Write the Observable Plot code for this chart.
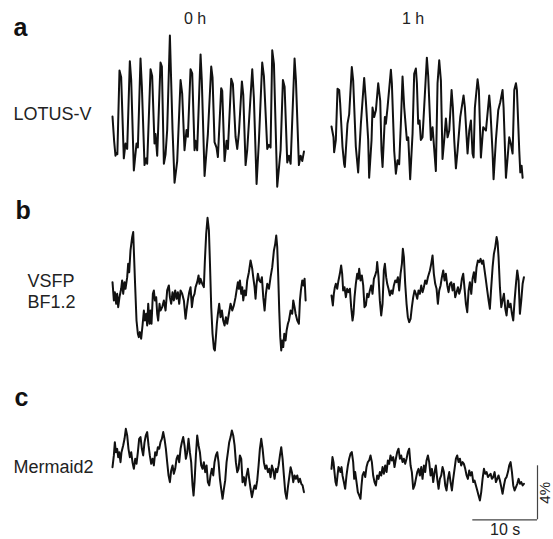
<!DOCTYPE html>
<html>
<head>
<meta charset="utf-8">
<script src="https://cdn.jsdelivr.net/npm/d3@7"></script>
<script src="https://cdn.jsdelivr.net/npm/@observablehq/plot@0.6"></script>
<style>
  html, body { margin: 0; padding: 0; background: #fff; }
  #chart svg { display: block; }
</style>
</head>
<body>
<div id="chart"></div>
<script>
// ---------------- data: [time (s), ΔF/F (%)] ----------------
const lotus0h = [[0,-0.2],[0.25,-2.0],[0.46,-3.1],[0.6,-2.9],[0.75,-3.0],[1.08,3.2],[1.34,2.7],[1.75,-3.3],[2.01,-2.2],[2.27,-2.6],[2.68,3.9],[2.89,2.5],[3.30,-4.2],[3.71,-2.2],[3.92,-2.5],[4.33,4.1],[4.54,2.0],[4.95,-3.8],[5.21,-3.3],[5.36,-3.7],[5.88,3.3],[6.13,2.8],[6.49,-2.2],[6.65,-1.5],[6.91,-3.1],[7.42,3.8],[7.63,3.5],[7.94,-3.7],[8.20,-3.0],[8.45,-1.2],[8.87,5.8],[9.28,-1.2],[9.59,-5.1],[10.0,-3.5],[10.52,2.5],[10.77,1.5],[11.13,-2.7],[11.44,-1.2],[11.65,-1.7],[12.06,3.3],[12.32,3.0],[12.68,-2.7],[12.84,-2.0],[13.09,-2.7],[13.61,4.4],[13.8,2.5],[14.23,-4.6],[14.74,-1.5],[15.26,3.5],[15.46,2.7],[15.77,-2.1],[16.08,-2.5],[16.29,-3.2],[16.80,1.9],[16.96,1.7],[17.32,-3.5],[17.63,-2.0],[17.84,-2.6],[18.35,2.6],[18.61,2.2],[19.02,-1.7],[19.28,-2.6],[19.54,-1.4],[20.0,2.4],[20.21,1.4],[20.57,-3.8],[20.82,-2.7],[21.6,3.3],[21.85,1.2],[22.27,-5.2],[22.63,-2.0],[23.14,3.8],[23.40,2.8],[23.92,-2.6],[24.18,-2.3],[24.43,-2.5],[24.69,4.7],[24.95,3.7],[25.46,-5.4],[25.98,-2.7],[26.34,2.5],[26.6,2.0],[27.01,-3.6],[27.27,-3.1],[27.53,-3.7],[28.14,4.1],[28.35,2.5],[28.81,-3.8],[29.07,-3.1],[29.33,-3.5],[29.59,-2.8]];

const lotus1h = [[0,-0.2],[0.31,-1.0],[0.41,-2.1],[0.67,-1.2],[0.93,2.6],[1.19,2.5],[1.34,1.5],[1.70,-1.7],[1.96,-3.0],[2.06,-3.2],[2.47,0],[2.73,0.7],[3.14,4.2],[3.35,3.2],[3.76,-1.7],[4.12,-3.6],[4.54,0],[5.05,3.4],[5.31,1.7],[5.67,-1.2],[5.82,-4.0],[6.19,-1.2],[6.34,1.2],[6.60,0.5],[6.86,1.0],[7.22,3.0],[7.53,1.7],[7.73,-2.0],[7.89,-3.2],[8.25,0.5],[8.40,0],[8.66,1.2],[9.18,4.0],[9.33,3.0],[9.69,-2.0],[9.95,-3.7],[10.21,-2.7],[10.46,-3.0],[10.72,0],[10.98,3.5],[11.24,1.2],[11.65,-1.2],[11.86,-1.0],[12.16,-4.1],[12.53,-0.7],[12.78,3.7],[13.04,4.1],[13.2,3.0],[13.4,0],[13.61,0.25],[13.81,-1.2],[14.07,-1.0],[14.74,4.9],[14.95,3.5],[15.36,-1.2],[15.62,-0.25],[16.13,-3.5],[16.39,3.0],[16.65,4.7],[16.91,3.2],[17.16,-2.6],[17.42,-1.2],[17.68,0.4],[17.94,-1.0],[18.2,-0.5],[18.56,2.5],[18.76,1.2],[18.97,-1.2],[19.23,-3.3],[19.48,-2.0],[19.9,0.5],[20.41,2.1],[20.62,1.2],[21.03,-2.2],[21.29,-0.5],[21.55,0.25],[21.8,-2.2],[21.96,-2.5],[22.16,1.2],[22.58,3.3],[22.78,2.5],[23.09,-2.5],[23.45,-0.25],[23.87,-0.5],[24.38,2.1],[24.54,1.2],[24.9,-2.2],[25.05,-4.1],[25.41,-1.2],[25.77,1.0],[26.08,1.6],[26.44,2.5],[26.6,1.2],[26.96,-4.0],[27.22,-2.5],[27.47,-1.0],[27.73,-1.5],[27.99,-2.2],[28.25,2.5],[28.51,3.0],[28.66,2.5],[29.02,-2.0],[29.18,-3.6],[29.38,-3.1],[29.54,-4.0]];

const vsfp0h = [[0,0.12],[0.21,-1.23],[0.36,-0.62],[0.57,-1.48],[0.72,-0.74],[0.88,-1.73],[1.08,-0.99],[1.34,-0.37],[1.49,0.25],[1.65,-0.74],[1.86,0.12],[2.01,-0.37],[2.27,0.49],[2.42,1.48],[2.58,0.86],[2.78,2.47],[3.04,3.46],[3.20,3.83],[3.30,2.47],[3.51,-0.25],[3.71,-2.72],[3.92,-3.70],[4.07,-3.95],[4.23,-3.58],[4.43,-4.07],[4.64,-3.09],[4.85,-1.98],[5.00,-2.72],[5.21,-2.22],[5.36,-3.09],[5.52,-1.48],[5.72,-2.96],[5.88,-1.98],[6.03,-2.96],[6.24,-0.74],[6.39,-0.49],[6.55,-1.23],[6.75,-0.99],[6.91,-2.22],[7.06,-2.72],[7.27,-1.48],[7.42,-1.98],[7.68,-1.73],[7.94,-1.23],[8.20,-1.98],[8.45,-0.49],[8.71,-0.12],[8.87,-0.99],[9.07,-1.48],[9.28,-0.62],[9.48,-1.23],[9.69,-0.49],[9.90,-1.11],[10.10,-0.62],[10.31,-1.48],[10.52,-0.49],[10.77,-0.74],[11.03,-1.23],[11.29,-2.59],[11.44,-1.98],[11.65,-1.23],[11.86,-0.62],[12.06,-0.25],[12.27,-1.73],[12.47,-0.99],[12.68,-0.74],[12.84,-0.25],[13.09,0.12],[13.30,0.62],[13.45,0],[13.61,0.37],[13.87,0],[14.12,-0.25],[14.28,1.73],[14.48,3.70],[14.69,4.89],[14.90,3.95],[15.05,1.73],[15.26,-1.73],[15.46,-3.70],[15.67,-4.81],[15.82,-4.94],[15.98,-3.95],[16.13,-2.96],[16.29,-2.22],[16.49,-1.48],[16.70,-2.47],[16.91,-1.98],[17.11,-2.72],[17.32,-3.09],[17.53,-2.47],[17.73,-2.96],[17.99,-2.22],[18.25,-1.48],[18.51,-1.98],[18.76,-1.6],[19.02,-0.99],[19.18,-0.49],[19.38,0.12],[19.54,-0.37],[19.69,0.25],[19.90,-0.74],[20.05,-0.25],[20.21,-1.23],[20.41,-0.49],[20.62,-0.86],[20.82,0.25],[21.08,0.86],[21.34,1.73],[21.60,1.11],[21.75,0.49],[21.96,-0.25],[22.11,-1.11],[22.27,0],[22.47,0.74],[22.68,0.25],[22.89,0.12],[23.09,0.49],[23.30,-0.99],[23.51,-1.98],[23.71,-0.74],[23.92,0],[24.18,-0.37],[24.43,0.49],[24.69,1.23],[24.95,2.47],[25.15,2.96],[25.31,3.58],[25.46,2.72],[25.62,0.49],[25.77,-1.98],[25.93,-3.95],[26.08,-4.94],[26.24,-4.20],[26.39,-4.69],[26.55,-3.70],[26.75,-4.20],[26.91,-3.46],[27.11,-2.96],[27.27,-2.72],[27.53,-1.98],[27.78,-2.22],[27.94,-1.23],[28.14,-1.73],[28.30,-2.22],[28.56,-2.72],[28.81,-2.96],[28.97,-1.23],[29.12,-0.49],[29.33,0.25],[29.48,-0.12],[29.69,0.37],[29.85,-1.23]];

const vsfp1h = [[0,-0.49],[0.21,-1.23],[0.36,-0.37],[0.52,0.12],[0.67,0.37],[0.88,0],[1.08,0.62],[1.29,1.11],[1.49,1.73],[1.65,1.11],[1.80,-0.12],[2.01,0.12],[2.22,-0.62],[2.42,0],[2.63,-0.25],[2.84,0],[3.04,-1.36],[3.25,-2.35],[3.40,-1.85],[3.56,-0.62],[3.76,0.37],[3.97,1.11],[4.12,0.74],[4.28,1.48],[4.48,0.62],[4.69,0.99],[4.90,0.25],[5.10,-1.36],[5.31,-1.23],[5.52,-0.37],[5.72,-0.62],[5.93,-0.12],[6.13,0.25],[6.34,-0.37],[6.55,0.74],[6.75,0.99],[6.96,1.36],[7.06,1.98],[7.27,0.86],[7.47,-0.86],[7.68,-1.98],[7.89,-1.11],[8.09,1.36],[8.25,1.85],[8.45,0.86],[8.61,0.37],[8.81,0],[9.02,-0.49],[9.23,-0.12],[9.43,-0.37],[9.64,0.25],[9.85,0.62],[10.05,0.49],[10.26,0.86],[10.46,-0.12],[10.67,1.11],[10.88,1.85],[11.03,2.96],[11.19,2.35],[11.39,0.37],[11.60,-1.11],[11.80,-2.10],[12.01,-2.47],[12.22,-2.22],[12.42,-1.36],[12.63,-0.62],[12.84,-0.12],[13.04,-0.37],[13.25,-0.74],[13.45,-0.12],[13.66,-0.37],[13.87,0.25],[14.07,-0.25],[14.28,0.12],[14.48,0.62],[14.69,0.37],[14.90,0.86],[15.21,1.36],[15.41,1.85],[15.62,2.47],[15.82,1.11],[16.03,0.37],[16.24,0],[16.44,-1.11],[16.65,-0.12],[16.86,0.25],[17.06,0.86],[17.27,1.36],[17.47,0.62],[17.68,1.11],[17.89,0.25],[18.09,-0.25],[18.30,0.37],[18.51,0.49],[18.71,-0.12],[18.92,0.37],[19.12,-0.62],[19.33,-0.25],[19.54,0.12],[19.74,-0.37],[19.95,0],[20.15,0.74],[20.36,1.11],[20.57,0],[20.77,-1.11],[20.98,-1.73],[21.19,-0.12],[21.39,0.49],[21.60,-0.37],[21.80,0.74],[22.01,1.23],[22.22,0.49],[22.42,1.60],[22.63,2.10],[22.84,1.98],[23.04,2.22],[23.25,1.85],[23.45,2.10],[23.66,1.36],[23.87,0.62],[24.07,-0.12],[24.28,-0.86],[24.48,-1.48],[24.69,0.12],[24.90,1.60],[25.10,2.59],[25.31,3.09],[25.52,3.83],[25.67,3.46],[25.82,2.35],[26.03,0.12],[26.24,-1.36],[26.44,-0.86],[26.65,-0.37],[26.86,-1.48],[27.06,-1.98],[27.27,-0.86],[27.47,-1.36],[27.68,-1.11],[27.89,-1.85],[28.09,-2.35],[28.30,-0.86],[28.51,0.37],[28.71,1.36],[28.92,0.62],[29.12,-1.85],[29.33,-0.86],[29.54,0.37],[29.74,0.86]];

const mermaid0h = [[0,-0.25],[0.21,0.62],[0.36,1.60],[0.52,0.86],[0.72,1.11],[0.88,0.49],[1.03,0.86],[1.24,0.12],[1.39,0.86],[1.65,1.36],[1.86,1.85],[2.06,2.59],[2.27,2.10],[2.47,1.11],[2.68,0.49],[2.89,0.86],[3.09,0.12],[3.30,-0.37],[3.51,0.37],[3.71,0],[3.92,0.86],[4.12,1.85],[4.33,1.98],[4.54,1.11],[4.74,0.62],[4.95,1.60],[5.15,2.10],[5.36,2.35],[5.57,1.36],[5.77,0.62],[5.98,0],[6.19,0.37],[6.39,-0.12],[6.60,0.86],[6.80,0.62],[7.01,1.23],[7.22,1.11],[7.42,1.60],[7.63,1.85],[7.84,2.35],[8.04,1.85],[8.25,1.11],[8.45,0.12],[8.66,-0.86],[8.87,-1.36],[9.07,-0.49],[9.28,-0.12],[9.48,-0.74],[9.69,-0.37],[9.90,0.37],[10.10,0.62],[10.31,0.12],[10.52,1.11],[10.72,1.60],[10.93,1.98],[11.13,1.36],[11.34,0.37],[11.55,0.86],[11.75,1.85],[11.96,0.86],[12.16,0.12],[12.37,-1.60],[12.53,-2.35],[12.68,-1.36],[12.89,0.62],[13.09,2.10],[13.30,1.36],[13.51,0.86],[13.71,-0.12],[13.92,-0.37],[14.12,0.12],[14.33,-0.62],[14.54,-0.12],[14.74,-1.36],[14.95,-1.60],[15.15,-0.86],[15.36,-0.37],[15.57,-0.86],[15.77,0.12],[15.98,0.62],[16.19,0.86],[16.39,0.12],[16.60,-1.11],[16.80,-1.85],[17.01,-2.59],[17.22,-1.85],[17.42,-1.23],[17.63,0.12],[17.84,0.86],[18.04,1.60],[18.25,1.98],[18.45,2.47],[18.66,2.10],[18.87,1.36],[19.07,0.12],[19.28,-0.62],[19.48,-0.37],[19.69,0.62],[19.90,0.37],[20.10,-1.36],[20.31,-0.99],[20.52,-1.60],[20.72,-0.86],[20.93,-0.37],[21.13,-1.11],[21.34,-1.85],[21.55,-2.47],[21.75,-1.98],[21.96,-1.60],[22.16,-1.85],[22.37,-1.23],[22.58,-0.12],[22.78,1.11],[22.99,1.85],[23.20,1.11],[23.40,0.12],[23.61,-0.37],[23.81,-0.12],[24.02,-0.62],[24.23,-0.37],[24.43,-0.99],[24.64,-0.12],[24.85,-0.49],[25.05,-1.11],[25.26,-0.37],[25.46,-0.62],[25.67,-0.12],[25.88,0.62],[26.08,1.23],[26.29,0.37],[26.49,-0.86],[26.70,-2.10],[26.91,-2.59],[27.11,-1.73],[27.32,-0.99],[27.53,-0.25],[27.73,-0.62],[27.94,-1.36],[28.14,-0.86],[28.35,-1.11],[28.56,-0.86],[28.76,-1.36],[28.97,-1.11],[29.18,-1.48],[29.38,-1.60],[29.59,-2.10]];

const mermaid1h = [[0,0.44],[0.15,1.31],[0.31,0.94],[0.46,0.20],[0.62,-0.54],[0.77,-0.79],[0.93,-0.05],[1.08,0.57],[1.24,0.44],[1.39,0.20],[1.55,0.57],[1.70,-0.05],[1.91,-0.54],[2.11,-1.04],[2.32,-0.05],[2.53,0.69],[2.73,1.19],[2.94,1.56],[3.14,1.68],[3.35,0.94],[3.51,-0.30],[3.66,0.20],[3.87,-0.54],[4.07,-1.28],[4.28,-1.53],[4.48,-1.78],[4.64,-0.79],[4.79,-0.05],[5.00,0.20],[5.21,-0.17],[5.41,0.57],[5.62,0.94],[5.82,1.06],[6.03,1.43],[6.24,0.94],[6.44,-0.05],[6.65,-0.54],[6.86,-0.79],[7.06,-0.05],[7.27,-0.30],[7.47,0.20],[7.68,-0.05],[7.89,0.57],[8.09,0.07],[8.30,0.69],[8.51,0.20],[8.71,1.06],[8.92,0.81],[9.12,1.43],[9.33,1.06],[9.54,1.31],[9.74,0.57],[9.95,1.19],[10.15,1.68],[10.36,1.93],[10.57,1.19],[10.77,1.43],[10.98,0.94],[11.19,1.19],[11.39,0.81],[11.60,1.19],[11.80,1.68],[12.01,1.93],[12.22,0.69],[12.42,0.20],[12.63,-1.04],[12.84,-0.79],[13.04,-0.30],[13.25,0.20],[13.45,0.44],[13.66,-0.05],[13.87,0.57],[14.07,-0.30],[14.28,0.69],[14.48,0.20],[14.69,1.06],[14.90,1.43],[15.10,0.94],[15.31,-0.05],[15.52,0.44],[15.72,-0.54],[15.93,0.20],[16.13,0.69],[16.34,-0.30],[16.55,-1.04],[16.75,-0.30],[16.96,-0.05],[17.16,0.57],[17.37,0.20],[17.58,-0.79],[17.78,-1.16],[17.99,-0.30],[18.20,0.20],[18.40,-0.54],[18.61,-1.16],[18.81,-0.30],[19.02,0.44],[19.23,1.19],[19.43,1.43],[19.64,0.94],[19.85,1.19],[20.05,0.69],[20.26,0.94],[20.46,0.81],[20.67,0.44],[20.88,-0.05],[21.08,-0.30],[21.29,0.32],[21.49,-0.05],[21.70,0.20],[21.91,-0.54],[22.11,-0.42],[22.32,-0.79],[22.53,-1.16],[22.73,-1.53],[22.94,-1.90],[23.14,-1.28],[23.35,-0.30],[23.56,0.44],[23.76,0.07],[23.97,0.20],[24.18,-0.17],[24.38,-0.05],[24.59,0.07],[24.79,-0.30],[25.00,-0.17],[25.21,0.20],[25.41,-0.54],[25.62,-0.30],[25.82,-0.05],[26.03,-0.42],[26.24,-0.91],[26.44,-1.41],[26.65,-0.79],[26.86,-0.30],[27.06,-0.17],[27.27,0.20],[27.47,0.69],[27.68,0.94],[27.89,0.20],[28.09,-0.79],[28.30,-1.16],[28.51,-0.91],[28.71,-0.67],[28.92,-0.30],[29.12,-0.67],[29.33,-0.54],[29.54,-0.79],[29.74,-0.67]];

const panelLetters = ["a", "b", "c"];
const sensorNames = ["LOTUS-V", "VSFP\nBF1.2", "Mermaid2"];
const timepoints = ["0 h", "1 h"];
const scaleBarSeconds = 10;
const scaleBarPercent = 4;

// ---------------- layout (pixels) ----------------
const W = 553, H = 539;
const PX_PER_S = 6.47, PX_PER_PCT = 13.5;
const sx = px => px / PX_PER_S;            // pixel -> seconds
const sy = px => (H - px) / PX_PER_PCT;    // pixel -> percent
const colStart = [112, 331];                // trace start x per column
const rowBase = [[113.3, 123.3], [283.3, 288.3], [463.3, 474.3]];
const letterPos = [[13, 27], [15, 210], [14, 397]];
const namePos = [[13, 113], [27, 290], [13, 466]];
const headerY = 18, headerX = [194.5, 412.5];
const barEnd = [537, 519.3];

const series = [[lotus0h, lotus1h], [vsfp0h, vsfp1h], [mermaid0h, mermaid1h]];
const rows = [];
series.forEach((pair, r) => pair.forEach((trace, c) => {
  trace.forEach(([t, v]) => rows.push({
    id: `${r}-${c}`,
    x: sx(colStart[c]) + t,
    y: sy(rowBase[r][c]) + v
  }));
}));

const letters = panelLetters.map((s, i) => ({s, x: sx(letterPos[i][0]), y: sy(letterPos[i][1])}));
const names = sensorNames.map((s, i) => ({s, x: sx(namePos[i][0]), y: sy(namePos[i][1])}));
const headers = timepoints.map((s, i) => ({s, x: sx(headerX[i]), y: sy(headerY)}));

const xb = sx(barEnd[0]), yb = sy(barEnd[1]);
const font = "'Liberation Sans', Arial, Helvetica, sans-serif";

const chart = Plot.plot({
  width: W,
  height: H,
  margin: 0,
  x: {domain: [0, W / PX_PER_S], axis: null},
  y: {domain: [0, H / PX_PER_PCT], axis: null},
  style: {fontFamily: font, background: "#fff"},
  marks: [
    Plot.line(rows, {x: "x", y: "y", z: "id", stroke: "#111", strokeWidth: 2, strokeLinejoin: "round"}),
    Plot.ruleY([yb], {x1: xb - scaleBarSeconds, x2: xb, stroke: "#444", strokeWidth: 1.2}),
    Plot.ruleX([xb], {y1: yb, y2: yb + scaleBarPercent, stroke: "#444", strokeWidth: 1.2}),
    Plot.text(letters, {x: "x", y: "y", text: "s", textAnchor: "start", fontSize: 25, fontWeight: "bold", fill: "#111"}),
    Plot.text(names, {x: "x", y: "y", text: "s", textAnchor: "start", fontSize: 18, lineHeight: 1.2, fill: "#222"}),
    Plot.text(headers, {x: "x", y: "y", text: "s", textAnchor: "middle", fontSize: 16, fill: "#222"}),
    Plot.text([`${scaleBarSeconds} s`], {x: xb - scaleBarSeconds / 2, y: yb, dy: 10, text: d => d, textAnchor: "middle", fontSize: 16, fill: "#222"}),
    Plot.text([`${scaleBarPercent}%`], {x: xb, y: yb + scaleBarPercent / 2, dx: 8, text: d => d, rotate: -90, textAnchor: "middle", fontSize: 15, fill: "#222"})
  ]
});
document.getElementById("chart").appendChild(chart);
</script>
</body>
</html>
